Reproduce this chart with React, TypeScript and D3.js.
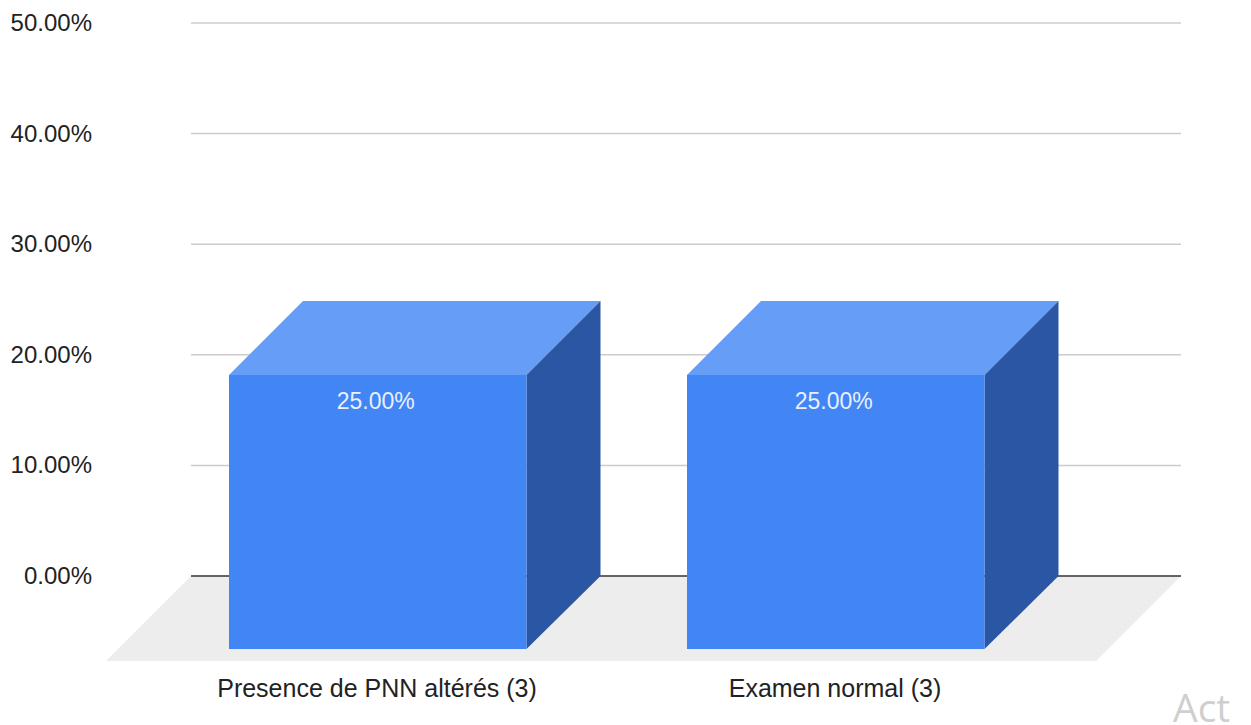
import React from "react";
import * as d3 from "d3";

const categories = ["Presence de PNN altérés (3)", "Examen normal (3)"];
const values = [25, 25];
const yTicks = [0, 10, 20, 30, 40, 50];
const font = "Arial, 'Liberation Sans', sans-serif";

export default function App() {
  const y = d3.scaleLinear().domain([0, 50]).range([576, 23]);
  const dx = 74, dy = 74; // depth offset of the back wall from the front plane
  const frontLefts = d3.scaleOrdinal<string, number>().domain(categories).range([229, 687]);
  const bw = 297.5;
  const frontY = (v: number) => y(v) + dy + 1.5;
  return (
    <svg width={1251} height={725} style={{ position: "absolute", left: 0, top: 0, background: "#fff" }}>
      <polygon points={`191,576 1181,576 1096,661 106,661`} fill="#ededed" />
      {yTicks.map((t) => (
        <g key={t}>
          <line x1={191} x2={1181} y1={y(t)} y2={y(t)} stroke={t === 0 ? "#333" : "#ccc"} strokeWidth={1.5} />
          <text x={92} y={y(t) + 8} textAnchor="end" fontFamily={font} fontSize={24} fill="#222">{t.toFixed(2)}%</text>
        </g>
      ))}
      {categories.map((c, i) => {
        const x0 = frontLefts(c);
        const top = frontY(values[i]);
        const bottom = 649;
        return (
          <g key={c}>
            <polygon points={`${x0},${top} ${x0 + bw},${top} ${x0 + bw + dx},${top - dy} ${x0 + dx},${top - dy}`} fill="#669df6" />
            <polygon points={`${x0 + bw},${top} ${x0 + bw + dx},${top - dy} ${x0 + bw + dx},576 ${x0 + bw},${bottom}`} fill="#2a56a3" />
            <rect x={x0} y={top} width={bw} height={bottom - top} fill="#4285f4" />
            <text x={x0 + bw / 2 - 2} y={top + 34} textAnchor="middle" fontFamily={font} fontSize={23} fill="#e8f0fe">{values[i].toFixed(2)}%</text>
            <text x={x0 + 148} y={697} textAnchor="middle" fontFamily={font} fontSize={25} fill="#222">{c}</text>
          </g>
        );
      })}
      <text x={1173} y={722} fontFamily="'Open Sans', sans-serif" fontSize={39} fill="#cfcfcf">Act</text>
    </svg>
  );
}
